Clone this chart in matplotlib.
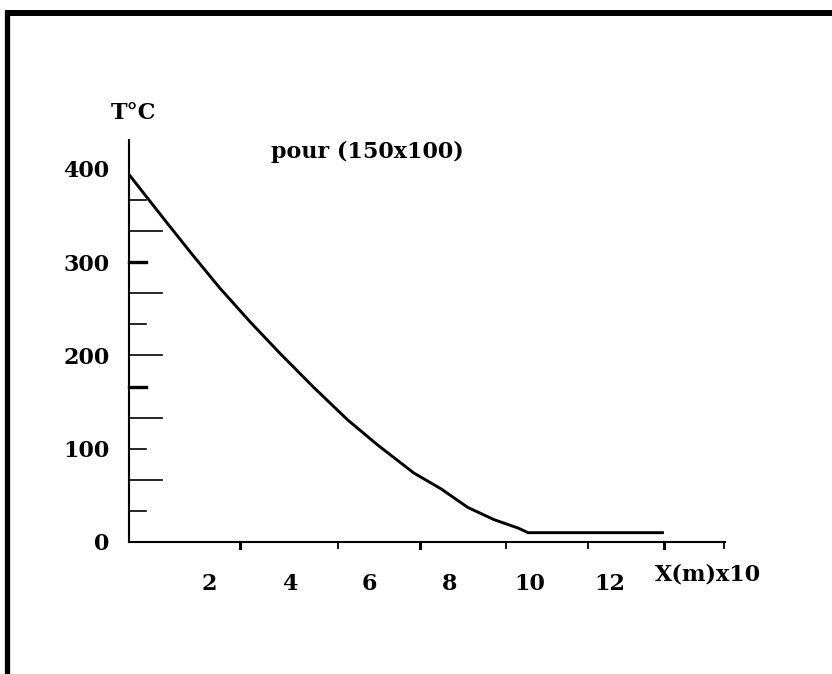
import matplotlib.pyplot as plt
from matplotlib.lines import Line2D
from matplotlib.transforms import blended_transform_factory

# Temperature profile along X
x_m = [0, 0.95, 1.6, 2.27, 3.02, 3.77, 4.6, 5.45, 6.2, 7.1, 7.78, 8.45, 9.1, 9.7, 9.95, 13.3]
temp_c = [394, 342, 307, 272, 236, 202, 166, 131, 104, 74, 57, 37, 24, 15, 10, 10]

x_labels = [2, 4, 6, 8, 10, 12]
y_labels = [0, 100, 200, 300, 400]

# hand-drawn tick marks on the X axis
x_marks = [2.77, 5.21, 7.26, 9.4, 11.45, 13.34, 14.84]
x_mark_thick = [True, False, True, False, False, True, False]
# Y tick marks every 100/3 degrees: 'l' long, 's' short, 'S' thick short
y_mark_style = 'slslSlslSls'

font = {'family': 'DejaVu Serif', 'weight': 'bold', 'size': 16}

fig = plt.figure(figsize=(8.32, 6.74), dpi=100)
ax = fig.add_axes([129 / 832, 1 - 542 / 674, 596 / 832, 402 / 674])

ax.plot(x_m, temp_c, color='black', linewidth=2.1, solid_joinstyle='round')

ax.set_xlim(0, 14.86)
ax.set_ylim(0, 431)
for side in ['top', 'right']:
    ax.spines[side].set_visible(False)
for side in ['left', 'bottom']:
    ax.spines[side].set_linewidth(1.5)

ax.set_xticks(x_labels)
ax.set_xticklabels([str(v) for v in x_labels], fontdict=font)
ax.set_yticks(y_labels)
ax.set_yticklabels([str(v) for v in y_labels], fontdict=font)
ax.tick_params(axis='x', length=0, pad=22)
ax.tick_params(axis='y', length=0, pad=14)

# tick marks drawn by hand
tx = blended_transform_factory(ax.transData, ax.transAxes)
for pos, thick in zip(x_marks, x_mark_thick):
    ax.add_line(Line2D([pos, pos], [0, -0.016], transform=tx, color='black',
                       linewidth=2.2 if thick else 1.3, clip_on=False))

ty = blended_transform_factory(ax.transAxes, ax.transData)
for k, style in enumerate(y_mark_style, start=1):
    val = k * 100 / 3
    length = 0.056 if style == 'l' else 0.028
    ax.add_line(Line2D([0, length], [val, val], transform=ty, color='black',
                       linewidth=2.4 if style == 'S' else 1.2, clip_on=False))

fig.text(133 / 832, 1 - 113 / 674, 'T°C', ha='center', va='center', fontdict=font)
fig.text(367 / 832, 1 - 152 / 674, 'pour (150x100)', ha='center', va='center', fontdict=font)
fig.text(708 / 832, 1 - 575 / 674, 'X(m)x10', ha='center', va='center', fontdict=font)

# outer frame (top and left edges)
fig.add_artist(Line2D([5 / 832, 1], [1 - 12.5 / 674, 1 - 12.5 / 674],
                      transform=fig.transFigure, color='black', linewidth=4.3,
                      solid_capstyle='butt'))
fig.add_artist(Line2D([7.5 / 832, 7.5 / 832], [0, 1 - 10 / 674],
                      transform=fig.transFigure, color='black', linewidth=3.8,
                      solid_capstyle='butt'))

fig.savefig('out.png', dpi=100)
